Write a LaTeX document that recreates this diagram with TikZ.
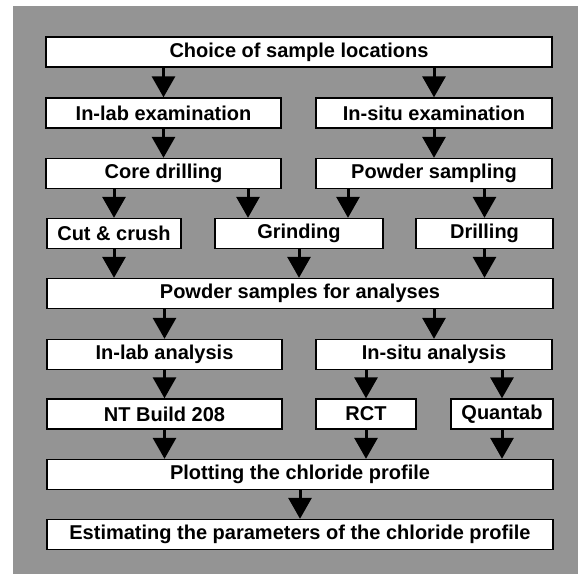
\documentclass[tikz,border=0pt]{standalone}
\usepackage{fontspec}
\setmainfont{Liberation Sans}
\usetikzlibrary{arrows.meta}
\begin{document}
\begin{tikzpicture}[x=1pt, y=-1pt,
  every node/.style={font=\fontsize{20}{23}\selectfont\bfseries},
  box/.style={draw, line width=1.4pt, fill=white, inner sep=0pt, minimum height=30pt},
  arr/.style={line width=3pt, -{Triangle[width=23pt, length=21pt]}}]
\useasboundingbox (0,0) rectangle (578,574);
% shaded panel
\fill[black!42] (13,6) rectangle (578,574);
% level 1
\node[box, minimum width=506pt] (choice) at (299,52) {Choice of sample locations};
% level 2
\node[box, minimum width=235pt] (labex) at (163.5,113) {In-lab examination};
\node[box, minimum width=236pt] (situex) at (434,113) {In-situ examination};
% level 3
\node[box, minimum width=235pt] (core) at (163.5,173.5) {Core drilling};
\node[box, minimum width=236pt] (powsamp) at (434,173.5) {Powder sampling};
% level 4
\node[box, minimum width=134pt] (cut) at (114,233.5) {Cut \& crush};
\node[box, minimum width=168pt] (grind) at (299,233.5) {Grinding};
\node[box, minimum width=137pt] (drill) at (484.5,233.5) {Drilling};
% level 5
\node[box, minimum width=506pt] (powder) at (300,293.5) {Powder samples for analyses};
% level 6
\node[box, minimum width=235pt] (labana) at (164.5,354.5) {In-lab analysis};
\node[box, minimum width=236pt] (situana) at (434,354.5) {In-situ analysis};
% level 7
\node[box, minimum width=235pt] (ntb) at (164.5,414) {NT Build 208};
\node[box, minimum width=100pt] (rct) at (366,414) {RCT};
\node[box, minimum width=102pt] (quan) at (502,414) {Quantab};
% level 8
\node[box, minimum width=506pt] (plot) at (300,474.5) {Plotting the chloride profile};
% level 9
\node[box, minimum width=506pt] (est) at (300,534.5) {Estimating the parameters of the chloride profile};
% arrows
\draw[arr] (choice.south -| labex.north) -- (labex.north);
\draw[arr] (choice.south -| situex.north) -- (situex.north);
\draw[arr] (labex.south) -- (core.north);
\draw[arr] (situex.south) -- (powsamp.north);
\draw[arr] (core.south -| cut.north) -- (cut.north);
\draw[arr] (core.south -| grind.north) ++(-51,0) -- ([xshift=-51pt]grind.north);
\draw[arr] (powsamp.south -| grind.north) ++(49,0) -- ([xshift=49pt]grind.north);
\draw[arr] (powsamp.south -| drill.north) -- (drill.north);
\draw[arr] (cut.south) -- (cut.south |- powder.north);
\draw[arr] (grind.south) -- (grind.south |- powder.north);
\draw[arr] (drill.south) -- (drill.south |- powder.north);
\draw[arr] (powder.south -| labana.north) -- (labana.north);
\draw[arr] (powder.south -| situana.north) -- (situana.north);
\draw[arr] (labana.south -| ntb.north) -- (ntb.north);
\draw[arr] (situana.south -| rct.north) -- (rct.north);
\draw[arr] (situana.south -| quan.north) -- (quan.north);
\draw[arr] (ntb.south) -- (ntb.south |- plot.north);
\draw[arr] (rct.south) -- (rct.south |- plot.north);
\draw[arr] (quan.south) -- (quan.south |- plot.north);
\draw[arr] (plot.south) -- (est.north);
\end{tikzpicture}
\end{document}
